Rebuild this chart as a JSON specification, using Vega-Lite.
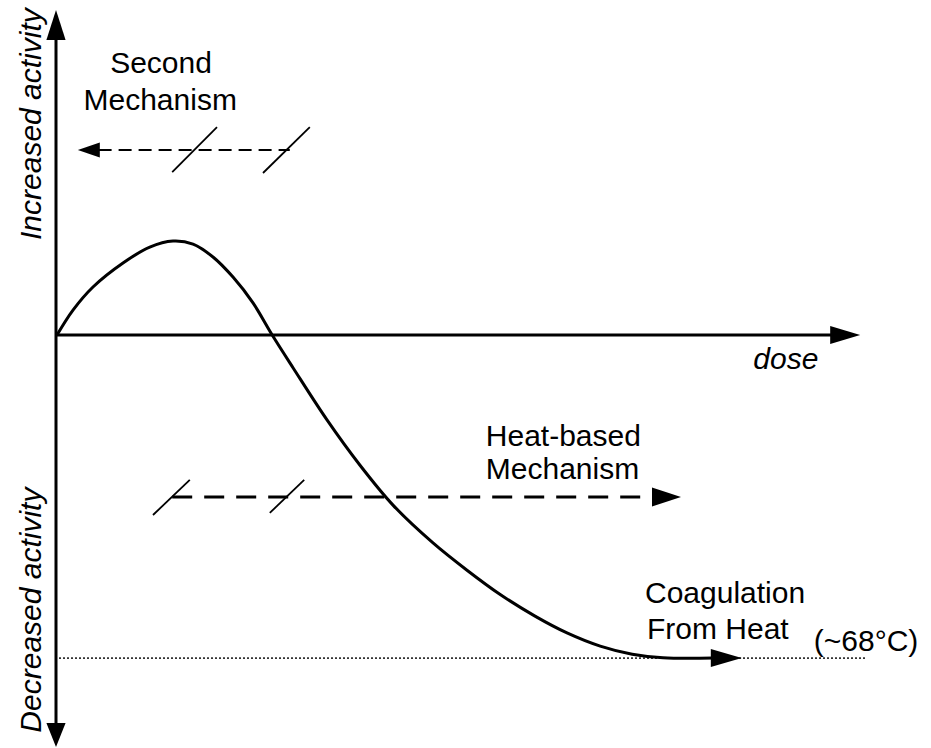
{
  "$schema": "https://vega.github.io/schema/vega-lite/v6.json",
  "width": 931,
  "height": 748,
  "autosize": {"type": "fit", "contains": "padding"},
  "padding": 0,
  "background": "white",
  "config": {"view": {"stroke": null}, "font": "Liberation Sans"},
  "datasets": {
    "curve": [
      {"dose": 0, "activity": 0},
      {"dose": 2, "activity": 8.3},
      {"dose": 4.5, "activity": 16},
      {"dose": 8.25, "activity": 24},
      {"dose": 11.6, "activity": 29.3},
      {"dose": 14.5, "activity": 31.3},
      {"dose": 17, "activity": 30.3},
      {"dose": 19.5, "activity": 26},
      {"dose": 22, "activity": 19.3},
      {"dose": 24.5, "activity": 10.7},
      {"dose": 26.9, "activity": 0},
      {"dose": 29.5, "activity": -10.9},
      {"dose": 33.75, "activity": -28.3},
      {"dose": 37.9, "activity": -43.5},
      {"dose": 42, "activity": -56.7},
      {"dose": 47, "activity": -69.3},
      {"dose": 51.25, "activity": -78.4},
      {"dose": 55.4, "activity": -86.5},
      {"dose": 59.75, "activity": -93.7},
      {"dose": 63.75, "activity": -99.3},
      {"dose": 67.9, "activity": -103.7},
      {"dose": 71.9, "activity": -106.4},
      {"dose": 75.75, "activity": -107.6},
      {"dose": 82, "activity": -107.7}
    ],
    "axes": [
      {"name": "vertical", "dose": -0.125, "activity": 106, "dose2": -0.125, "activity2": -134},
      {"name": "horizontal", "dose": -0.125, "activity": 0, "dose2": 99, "activity2": 0}
    ],
    "baseline": [
      {"name": "coagulation level", "dose": -0.25, "activity": -107.7, "dose2": 101.25, "activity2": -107.7}
    ],
    "secondLine": [
      {"name": "second mechanism", "dose": 5.2, "activity": 61.7, "dose2": 29.1, "activity2": 61.7}
    ],
    "heatLine": [
      {"name": "heat mechanism", "dose": 14.4, "activity": -54, "dose2": 75, "activity2": -54}
    ],
    "slashes": [
      {"name": "heat break 1", "dose": 12, "activity": -60, "dose2": 16.6, "activity2": -48.3},
      {"name": "heat break 2", "dose": 26.6, "activity": -59.3, "dose2": 30.9, "activity2": -48.3},
      {"name": "second break 1", "dose": 14.4, "activity": 54.3, "dose2": 20, "activity2": 69.3},
      {"name": "second break 2", "dose": 25.75, "activity": 54, "dose2": 31.6, "activity2": 69.3}
    ],
    "arrows": [
      {"arrow": "up", "dose": -0.125, "activity": 108.3},
      {"arrow": "down", "dose": -0.125, "activity": -137.3},
      {"arrow": "dose", "dose": 100.4, "activity": 0},
      {"arrow": "second", "dose": 2.6, "activity": 61.7},
      {"arrow": "heat", "dose": 78, "activity": -54},
      {"arrow": "curve", "dose": 85.6, "activity": -107.7}
    ],
    "labelsCenter": [
      {"text": "Second", "dose": 13, "activity": 90.3},
      {"text": "Mechanism", "dose": 12.9, "activity": 78}
    ],
    "labelsLeft": [
      {"text": "Heat-based", "dose": 53.6, "activity": -34},
      {"text": "Mechanism", "dose": 53.6, "activity": -45},
      {"text": "Coagulation", "dose": 73.5, "activity": -86.3},
      {"text": "From Heat", "dose": 73.75, "activity": -98.3},
      {"text": "(~68°C)", "dose": 94.6, "activity": -102.3}
    ],
    "axisTitles": [
      {"text": "Increased activity", "dose": -3.1, "activity": 70.3},
      {"text": "Decreased activity", "dose": -3.1, "activity": -91.7}
    ],
    "doseTitle": [
      {"text": "dose", "dose": 91.1, "activity": -8.3}
    ]
  },
  "encoding": {
    "x": {"field": "dose", "type": "quantitative", "scale": {"domain": [-7.125, 109.25], "nice": false, "zero": false}, "axis": null},
    "y": {"field": "activity", "type": "quantitative", "scale": {"domain": [-137.667, 111.667], "nice": false, "zero": false}, "axis": null}
  },
  "layer": [
    {
      "data": {"name": "baseline"},
      "mark": {"type": "rule", "color": "#333333", "strokeWidth": 1.6, "strokeDash": [2, 2]},
      "encoding": {"x2": {"field": "dose2"}, "y2": {"field": "activity2"}}
    },
    {
      "data": {"name": "axes"},
      "mark": {"type": "rule", "color": "black", "strokeWidth": 3},
      "encoding": {"x2": {"field": "dose2"}, "y2": {"field": "activity2"}}
    },
    {
      "data": {"name": "secondLine"},
      "mark": {"type": "rule", "color": "black", "strokeWidth": 2, "strokeDash": [13, 7]},
      "encoding": {"x2": {"field": "dose2"}, "y2": {"field": "activity2"}}
    },
    {
      "data": {"name": "heatLine"},
      "mark": {"type": "rule", "color": "black", "strokeWidth": 3, "strokeDash": [20, 12]},
      "encoding": {"x2": {"field": "dose2"}, "y2": {"field": "activity2"}}
    },
    {
      "data": {"name": "slashes"},
      "mark": {"type": "rule", "color": "black", "strokeWidth": 1.8},
      "encoding": {"x2": {"field": "dose2"}, "y2": {"field": "activity2"}}
    },
    {
      "data": {"name": "curve"},
      "mark": {"type": "line", "color": "black", "strokeWidth": 3, "interpolate": "catmull-rom"}
    },
    {
      "data": {"name": "arrows"},
      "transform": [{"filter": "datum.arrow === 'up'"}],
      "mark": {"type": "point", "shape": "M0,0L-1,-0.32L-1,0.32Z", "size": 3600, "angle": 270, "filled": true, "color": "black", "opacity": 1, "strokeWidth": 0}
    },
    {
      "data": {"name": "arrows"},
      "transform": [{"filter": "datum.arrow === 'down'"}],
      "mark": {"type": "point", "shape": "M0,0L-1,-0.4L-1,0.4Z", "size": 2300, "angle": 90, "filled": true, "color": "black", "opacity": 1, "strokeWidth": 0}
    },
    {
      "data": {"name": "arrows"},
      "transform": [{"filter": "datum.arrow === 'dose'"}],
      "mark": {"type": "point", "shape": "M0,0L-1,-0.3L-1,0.3Z", "size": 3600, "angle": 0, "filled": true, "color": "black", "opacity": 1, "strokeWidth": 0}
    },
    {
      "data": {"name": "arrows"},
      "transform": [{"filter": "datum.arrow === 'second'"}],
      "mark": {"type": "point", "shape": "M0,0L-1,-0.34L-1,0.34Z", "size": 1936, "angle": 180, "filled": true, "color": "black", "opacity": 1, "strokeWidth": 0}
    },
    {
      "data": {"name": "arrows"},
      "transform": [{"filter": "datum.arrow === 'heat'"}],
      "mark": {"type": "point", "shape": "M0,0L-1,-0.33L-1,0.33Z", "size": 3364, "angle": 0, "filled": true, "color": "black", "opacity": 1, "strokeWidth": 0}
    },
    {
      "data": {"name": "arrows"},
      "transform": [{"filter": "datum.arrow === 'curve'"}],
      "mark": {"type": "point", "shape": "M0,0L-1,-0.29L-1,0.29Z", "size": 3844, "angle": 0, "filled": true, "color": "black", "opacity": 1, "strokeWidth": 0}
    },
    {
      "data": {"name": "labelsCenter"},
      "mark": {"type": "text", "fontSize": 30, "align": "center", "baseline": "middle", "color": "black"},
      "encoding": {"text": {"field": "text"}}
    },
    {
      "data": {"name": "labelsLeft"},
      "mark": {"type": "text", "fontSize": 30, "align": "left", "baseline": "middle", "color": "black"},
      "encoding": {"text": {"field": "text"}}
    },
    {
      "data": {"name": "axisTitles"},
      "mark": {"type": "text", "fontSize": 30, "fontStyle": "italic", "align": "center", "baseline": "middle", "angle": 270, "color": "black"},
      "encoding": {"text": {"field": "text"}}
    },
    {
      "data": {"name": "doseTitle"},
      "mark": {"type": "text", "fontSize": 30, "fontStyle": "italic", "align": "center", "baseline": "middle", "color": "black"},
      "encoding": {"text": {"field": "text"}}
    }
  ]
}
